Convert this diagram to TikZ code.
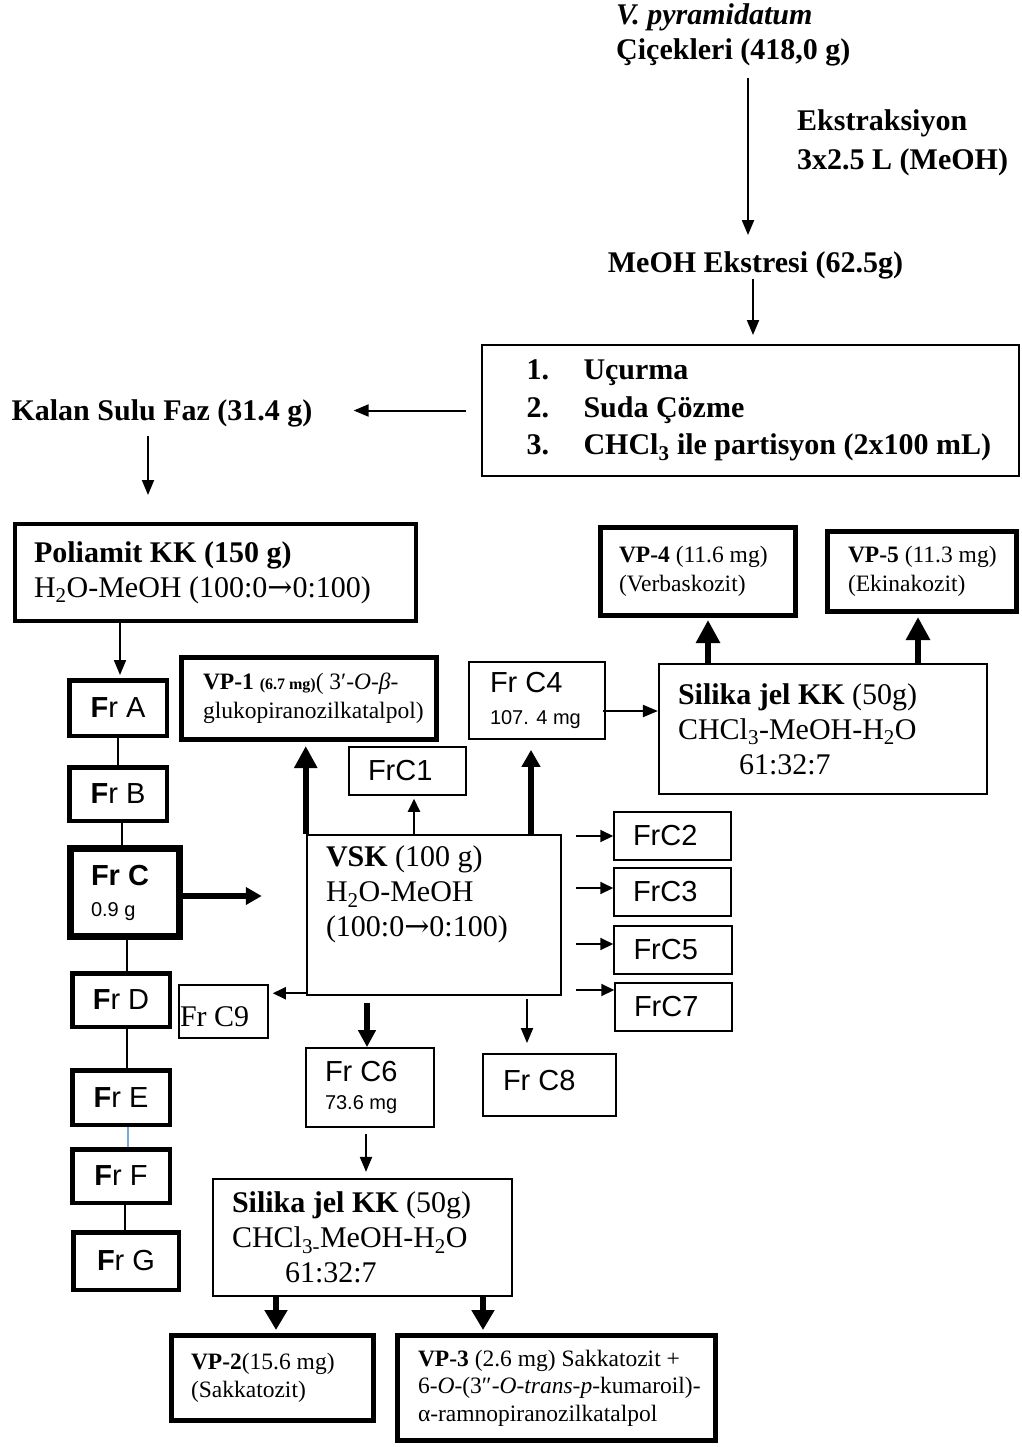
\documentclass[tikz,border=0pt]{standalone}
\usepackage{fontspec}
\setmainfont{Liberation Serif}
\newfontfamily\arialf{Liberation Sans}
\newfontfamily\djv{DejaVu Serif}
\usetikzlibrary{arrows.meta,calc}
\definecolor{ltblue}{RGB}{120,170,220}
\newcommand{\rarr}{{\djv →}}
\tikzset{
  txt/.style={inner sep=0pt, font=\bfseries\fontsize{30}{35}\selectfont, align=flush left},
  bx/.style={draw, line width=1.8pt, inner ysep=0pt, align=flush left},
  thickbx/.style={draw, line width=5pt, inner ysep=0pt, align=flush left},
  frbx/.style={draw, line width=4.5pt, inner sep=0pt, align=center, font=\arialf\fontsize{29}{32}\selectfont},
  frc/.style={bx, line width=1.5pt, minimum width=117pt, minimum height=48pt, text width=79pt, inner xsep=19pt, font=\arialf\fontsize{29}{32}\selectfont},
  arialtxt/.style={font=\arialf\fontsize{29}{32}\selectfont},
  serifbig/.style={font=\fontsize{30}{35}\selectfont},
  vpfont/.style={font=\fontsize{23.5}{28.5}\selectfont},
  tinarr/.style={line width=2pt, -{Triangle[length=15pt,width=12pt]}},
  fatarr/.style={line width=6pt, -{Triangle[length=20pt,width=20pt]}},
  conn/.style={line width=1.3pt},
}
\begin{document}
\begin{tikzpicture}[x=1pt,y=-1pt]
\fill[white] (0,0) rectangle (1021,1447);
\useasboundingbox (0,0) rectangle (1021,1447);

% top texts
\node[txt, anchor=west] (title) at (616,35) {\textit{V. pyramidatum}\\Çiçekleri (418,0 g)};
\node[txt, anchor=west, font=\bfseries\fontsize{30}{39}\selectfont] (ekstr) at (797,143) {Ekstraksiyon\\3x2.5 L (MeOH)};
\node[txt] (meoh) at (755.5,265) {MeOH Ekstresi (62.5g)};
\node[bx, line width=2pt, minimum width=537pt, minimum height=131pt, text width=447pt, inner xsep=45pt, font=\bfseries\fontsize{30}{37.5}\selectfont] (part) at (750,410.5)
  {\mbox{\makebox[57pt][l]{1.}Uçurma}\\\mbox{\makebox[57pt][l]{2.}Suda Çözme}\\\mbox{\makebox[57pt][l]{3.}CHCl\textsubscript{3} ile partisyon (2x100 mL)}};
\node[txt] (kalan) at (162,413) {Kalan Sulu Faz (31.4 g)};

% Poliamit
\node[thickbx, line width=4pt, minimum width=401pt, minimum height=97pt, text width=363pt, inner xsep=19pt, serifbig] (poli) at (215.5,572.5)
  {\mbox{\textbf{Poliamit KK (150 g)}}\\\mbox{H\textsubscript{2}O-MeOH (100:0\rarr0:100)}};

% Fr column
\node[frbx, minimum width=97.5pt, minimum height=55.5pt] (frA) at (118,708) {\textbf{F}r A};
\node[frbx, minimum width=97.5pt, minimum height=53.5pt] (frB) at (118,794) {\textbf{F}r B};
\node[frbx, line width=7pt, minimum width=109pt, minimum height=88pt, text width=68pt, inner xsep=20.5pt, align=flush left, font=\arialf\fontsize{29}{31}\selectfont] (frC) at (125,892.5)
  {\mbox{\textbf{Fr C}}\\\mbox{\fontsize{20}{24}\selectfont 0.9 g}};
\node[frbx, minimum width=97.5pt, minimum height=53.5pt] (frD) at (121,1000) {\textbf{F}r D};
\node[frbx, minimum width=97.5pt, minimum height=54.5pt] (frE) at (121,1097.5) {\textbf{F}r E};
\node[frbx, minimum width=97.5pt, minimum height=53.5pt] (frF) at (121,1176) {\textbf{F}r F};
\node[frbx, minimum width=105.5pt, minimum height=57.5pt] (frG) at (126,1261) {\textbf{F}r G};

% VP-1, FrC1, Fr C4
\node[thickbx, minimum width=255pt, minimum height=82pt, text width=212pt, inner xsep=21.5pt, vpfont] (vp1) at (309,698.5)
  {\mbox{\textbf{VP-1} {\bfseries\fontsize{16}{20}\selectfont (6.7 mg)}( 3′-\textit{O}-\textit{β}-}\\\mbox{glukopiranozilkatalpol)}};
\node[frc] (fc1) at (407.5,771) {FrC1};
\node[bx, line width=1.8pt, minimum width=136pt, minimum height=77pt, text width=94pt, inner xsep=21pt, arialtxt] (fc4) at (537,700.5)
  {\mbox{Fr C4}\\\mbox{\fontsize{20}{24}\selectfont 107. 4 mg}};

% upper Silika and VP-4, VP-5
\node[bx, line width=2.2pt, minimum width=328pt, minimum height=130pt, text width=290pt, inner xsep=19pt, serifbig] (sil1) at (823,729)
  {\mbox{\textbf{Silika jel KK} (50g)}\\\mbox{CHCl\textsubscript{3}-MeOH-H\textsubscript{2}O}\\\hspace*{61pt}61:32:7};
\node[thickbx, minimum width=195pt, minimum height=88pt, text width=158pt, inner xsep=18.5pt, vpfont] (vp4) at (698,571.5)
  {\mbox{\textbf{VP-4} (11.6 mg)}\\(Verbaskozit)};
\node[thickbx, minimum width=189pt, minimum height=80pt, text width=148pt, inner xsep=20.5pt, vpfont] (vp5) at (922,571.5)
  {\mbox{\textbf{VP-5} (11.3 mg)}\\(Ekinakozit)};

% VSK and its fractions
\node[bx, line width=2.5pt, minimum width=254pt, minimum height=160pt, text width=216pt, inner xsep=19pt, serifbig] (vsk) at (434,915)
  {\mbox{\textbf{VSK} (100 g)}\\H\textsubscript{2}O-MeOH\\\mbox{(100:0\rarr0:100)}\\[12pt]\mbox{}};
\node[frc] (fc2) at (672.5,836) {FrC2};
\node[frc] (fc3) at (672.5,892) {FrC3};
\node[frc, minimum width=118pt] (fc5) at (673,950) {FrC5};
\node[frc] (fc7) at (673.5,1007) {FrC7};
\node[bx, line width=1.5pt, minimum width=89pt, minimum height=53pt, text width=87pt, inner xsep=1pt, serifbig] (fc9) at (223.5,1011.5)
  {\raisebox{-5pt}[\height][\depth]{Fr C9}};
\node[bx, minimum width=128pt, minimum height=79pt, text width=90pt, inner xsep=19pt, font=\arialf\fontsize{29}{28}\selectfont] (fc6) at (370,1087.5)
  {\mbox{Fr C6}\\\mbox{\fontsize{20}{24}\selectfont 73.6 mg}};
\node[bx, minimum width=133pt, minimum height=62pt, text width=93pt, inner xsep=20pt, arialtxt] (fc8) at (549.5,1085)
  {\raisebox{4pt}[\height][\depth]{Fr C8}};

% lower Silika and VP-2, VP-3
\node[bx, line width=2.2pt, minimum width=299pt, minimum height=117pt, text width=261pt, inner xsep=19pt, serifbig] (sil2) at (362.5,1237.5)
  {\mbox{\textbf{Silika jel KK} (50g)}\\\mbox{CHCl\textsubscript{3-}MeOH-H\textsubscript{2}O}\\\hspace*{53pt}61:32:7};
\node[thickbx, minimum width=202pt, minimum height=85pt, text width=163pt, inner xsep=19.5pt, vpfont] (vp2) at (272.5,1378)
  {\mbox{\textbf{VP-2}(15.6 mg)}\\(Sakkatozit)};
\node[thickbx, minimum width=318pt, minimum height=105pt, text width=277pt, inner xsep=20.5pt, font=\fontsize{23.5}{27.5}\selectfont] (vp3) at (556.5,1388)
  {\mbox{\textbf{VP-3} (2.6 mg) Sakkatozit +}\\\mbox{6-\textit{O}-(3″-\textit{O}-\textit{trans}-\textit{p}-kumaroil)-}\\\mbox{α-ramnopiranozilkatalpol}};

% connectors: top part
\draw[tinarr, shorten <=12pt, shorten >=16pt] ([xshift=-7.5pt]meoh.north |- title.south) -- ([xshift=-7.5pt]meoh.north);
\draw[tinarr, shorten >=9pt] ([xshift=-2.5pt]meoh.south) -- ([xshift=-2.5pt]meoh.south |- part.north);
\draw[tinarr, shorten <=14.5pt, shorten >=41pt] (part.west) -- (part.west -| kalan.east);
\draw[tinarr, shorten <=9pt, shorten >=27pt] ([xshift=-14pt]kalan.south) -- ([xshift=-14pt]kalan.south |- poli.north);
\draw[tinarr, shorten >=3pt] ([xshift=-95.5pt]poli.south) -- ([xshift=-95.5pt]poli.south |- frA.north);

% Fr column links
\draw[conn] (frA.south) -- (frA.south |- frB.north);
\draw[conn] ([xshift=4pt]frB.south) -- ([xshift=4pt]frB.south |- frC.north);
\draw[conn] ([xshift=2pt]frC.south) -- ([xshift=2pt]frC.south |- frD.north);
\draw[conn] ([xshift=6pt]frD.south) -- ([xshift=6pt]frD.south |- frE.north);
\draw[conn, ltblue] ([xshift=7pt]frE.south) -- ([xshift=7pt]frE.south |- frF.north);
\draw[conn] ([xshift=4pt]frF.south) -- ([xshift=4pt]frF.south |- frG.north);

% Fr C -> VSK
\draw[fatarr, -{Triangle[length=16pt,width=17pt]}, shorten >=44pt] ($(frC.east)+(0,3.5)$) -- ($(frC.east -| vsk.west)+(0,3.5)$);

% VSK upwards
\draw[fatarr, -{Triangle[length=22pt,width=22pt]}, shorten >=4pt] (vsk.north west) -- (vsk.north west |- vp1.south);
\draw[tinarr, -{Triangle[length=13pt,width=12pt]}, shorten >=3pt] ([xshift=-20pt]vsk.north) -- ([xshift=-20pt]vsk.north |- fc1.south);
\draw[fatarr, -{Triangle[length=17pt,width=18pt]}, shorten >=10pt] ([xshift=97pt]vsk.north) -- ([xshift=97pt]vsk.north |- fc4.south);
\draw[tinarr] ($(fc4.east)+(-3,10.5)$) -- ($(fc4.east -| sil1.west)+(0,10.5)$);
\draw[fatarr, -{Triangle[length=23pt,width=23pt]}, shorten >=2pt] ([xshift=-115pt]sil1.north) -- ([xshift=-115pt]sil1.north |- vp4.south);
\draw[fatarr, -{Triangle[length=23pt,width=23pt]}, shorten >=3pt] ([xshift=95pt]sil1.north) -- ([xshift=95pt]sil1.north |- vp5.south);

% VSK rightwards
\draw[tinarr, -{Triangle[length=13pt,width=12pt]}, shorten <=14pt] (vsk.east |- fc2.west) -- (fc2.west);
\draw[tinarr, -{Triangle[length=13pt,width=12pt]}, shorten <=14pt] ($(vsk.east |- fc3.west)+(0,-4)$) -- ($(fc3.west)+(0,-4)$);
\draw[tinarr, -{Triangle[length=13pt,width=12pt]}, shorten <=14pt] ($(vsk.east |- fc5.west)+(0,-6)$) -- ($(fc5.west)+(0,-6)$);
\draw[tinarr, -{Triangle[length=13pt,width=12pt]}, shorten <=14pt] ($(vsk.east |- fc7.west)+(0,-17)$) -- ($(fc7.west)+(0,-17)$);

% VSK left and down
\draw[tinarr, -{Triangle[length=13pt,width=12pt]}, shorten >=4pt] ($(vsk.south west)+(0,-3)$) -- ($(vsk.south west -| fc9.east)+(0,-3)$);
\draw[fatarr, -{Triangle[length=17pt,width=17pt]}, shorten <=7pt] ([xshift=-67pt]vsk.south) -- ([xshift=-67pt]vsk.south |- fc6.north);
\draw[tinarr, shorten <=3pt, shorten >=10pt] ([xshift=93pt]vsk.south) -- ([xshift=93pt]vsk.south |- fc8.north);
\draw[tinarr, shorten <=6pt, shorten >=6pt] ([xshift=-4pt]fc6.south) -- ([xshift=-4pt]fc6.south |- sil2.north);
\draw[fatarr, -{Triangle[length=20pt,width=22pt]}, shorten >=3pt] ([xshift=-86.5pt]sil2.south) -- ([xshift=-86.5pt]sil2.south |- vp2.north);
\draw[fatarr, -{Triangle[length=20pt,width=22pt]}, shorten >=3pt] ([xshift=120.5pt]sil2.south) -- ([xshift=120.5pt]sil2.south |- vp3.north);
\end{tikzpicture}
\end{document}
